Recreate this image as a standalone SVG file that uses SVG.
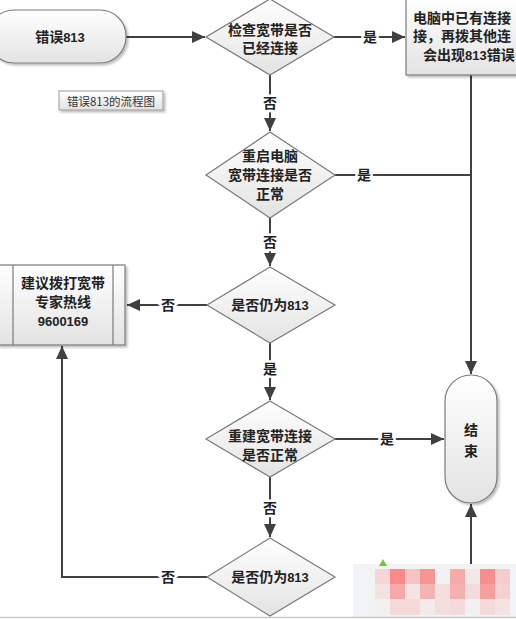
<svg xmlns="http://www.w3.org/2000/svg" width="516" height="619" viewBox="0 0 516 619">
<defs>
<linearGradient id="g" x1="0" y1="0" x2="0" y2="1">
<stop offset="0" stop-color="#ffffff"/>
<stop offset="1" stop-color="#e3e3e3"/>
</linearGradient>
<filter id="sh" x="-10%" y="-10%" width="130%" height="130%">
<feDropShadow dx="2" dy="2" stdDeviation="1.2" flood-color="#000" flood-opacity="0.25"/>
</filter>
<marker id="ar" markerUnits="userSpaceOnUse" markerWidth="13" markerHeight="12" viewBox="0 0 13 12" refX="13" refY="6" orient="auto">
<path d="M0,0 L13,6 L0,12 z" fill="#404040"/>
</marker>
<style>
.n{fill:url(#g);stroke:#7a7a7a;stroke-width:1.2}
.t{font-family:"Liberation Serif","Noto Sans CJK SC",serif;font-weight:bold;font-size:14px;fill:#222;text-anchor:middle;dominant-baseline:central}
.s{text-anchor:start}
.d{font-family:"Liberation Sans","DejaVu Sans",sans-serif;font-size:13px}
.c{fill:none;stroke:#404040;stroke-width:2}
.l{font-family:"Liberation Serif","Noto Sans CJK SC",serif;font-weight:bold;font-size:14px;fill:#222;text-anchor:middle;dominant-baseline:central;paint-order:stroke;stroke:#fff;stroke-width:5px}
</style>
</defs>
<rect width="516" height="619" fill="#fff"/>
<g id="connectors">
<path class="c" d="M126,37 H205" marker-end="url(#ar)"/>
<path class="c" d="M334,37 H405" marker-end="url(#ar)"/>
<path class="c" d="M270,75 V131" marker-end="url(#ar)"/>
<path class="c" d="M335,175 H471"/>
<path class="c" d="M471,75 V374" marker-end="url(#ar)"/>
<path class="c" d="M270,218 V266" marker-end="url(#ar)"/>
<path class="c" d="M207,305 H127" marker-end="url(#ar)"/>
<path class="c" d="M270,343 V400" marker-end="url(#ar)"/>
<path class="c" d="M335,439 H444" marker-end="url(#ar)"/>
<path class="c" d="M270,477 V537" marker-end="url(#ar)"/>
<path class="c" d="M207,577 H62 V346" marker-end="url(#ar)"/>
<path class="c" d="M471,610 V504" marker-end="url(#ar)"/>
<text class="l" x="370" y="37">是</text>
<text class="l" x="270" y="103">否</text>
<text class="l" x="364" y="175">是</text>
<text class="l" x="270" y="242">否</text>
<text class="l" x="168" y="305">否</text>
<text class="l" x="270" y="369">是</text>
<text class="l" x="387" y="439">是</text>
<text class="l" x="270" y="508">否</text>
<text class="l" x="168" y="577">否</text>
</g>
<g id="start">
<rect class="n" x="-12" y="10" width="138" height="53" rx="26" filter="url(#sh)"/>
<text class="t" x="60" y="37">错误<tspan class="d">813</tspan></text>
</g>
<g id="title">
<rect x="59" y="91" width="104" height="19" fill="url(#g)" stroke="#999" stroke-width="1" filter="url(#sh)"/>
<text x="111" y="101" font-family="'Noto Sans CJK SC',sans-serif" font-size="11.5" fill="#333" text-anchor="middle" dominant-baseline="central">错误813的流程图</text>
</g>
<g id="d1">
<polygon class="n" points="270,-1 334,37 270,75 206,37"/>
<text class="t" x="270" y="30">检查宽带是否</text>
<text class="t" x="270" y="48">已经连接</text>
</g>
<g id="note">
<rect class="n" x="406" y="-4" width="120" height="79" filter="url(#sh)"/>
<text class="t s" x="413" y="18">电脑中已有连接</text>
<text class="t s" x="413" y="36">接，再拨其他连</text>
<text class="t s" x="423" y="55">会出现<tspan class="d">813</tspan>错误</text>
</g>
<g id="d2">
<polygon class="n" points="270,132 335,175 270,218 206,175"/>
<text class="t" x="270" y="156">重启电脑</text>
<text class="t" x="270" y="175">宽带连接是否</text>
<text class="t" x="270" y="194">正常</text>
</g>
<g id="d3">
<polygon class="n" points="270,267 335,305 270,343 207,305"/>
<text class="t" x="270" y="305">是否仍为<tspan class="d">813</tspan></text>
</g>
<g id="hotline">
<rect class="n" x="-2" y="265" width="127" height="80" filter="url(#sh)"/>
<line x1="13" y1="265" x2="13" y2="345" stroke="#7a7a7a" stroke-width="1.2"/>
<line x1="113" y1="265" x2="113" y2="345" stroke="#7a7a7a" stroke-width="1.2"/>
<text class="t" x="63" y="283">建议拨打宽带</text>
<text class="t" x="63" y="302">专家热线</text>
<text class="t" x="63" y="321"><tspan class="d">9600169</tspan></text>
</g>
<g id="d4">
<polygon class="n" points="270,401 335,439 270,477 206,439"/>
<text class="t" x="270" y="436">重建宽带连接</text>
<text class="t" x="270" y="455">是否正常</text>
</g>
<g id="end">
<rect class="n" x="445" y="375" width="52" height="128" rx="26" filter="url(#sh)"/>
<text class="t" x="471" y="430">结</text>
<text class="t" x="471" y="451">束</text>
</g>
<g id="d5">
<polygon class="n" points="270,538 335,577 270,616 207,577"/>
<text class="t" x="270" y="577">是否仍为<tspan class="d">813</tspan></text>
</g>
<g id="watermark">
<rect x="353" y="564" width="163" height="53" fill="#f1f3f4"/>
<polygon points="379,566 383,559 387,566" fill="#7cc043"/>
<g>
<rect x="375" y="569" width="15" height="15" fill="#f5d5d5"/>
<rect x="390" y="569" width="15" height="15" fill="#f98a8a"/>
<rect x="405" y="569" width="15" height="15" fill="#f5c5c5"/>
<rect x="420" y="569" width="15" height="15" fill="#f79595"/>
<rect x="435" y="569" width="15" height="15" fill="#f2f2f2"/>
<rect x="450" y="569" width="15" height="15" fill="#f6aaaa"/>
<rect x="465" y="569" width="15" height="15" fill="#f3e8e8"/>
<rect x="480" y="569" width="15" height="15" fill="#f88d8d"/>
<rect x="495" y="569" width="15" height="15" fill="#f5cccc"/>
<rect x="375" y="584" width="15" height="15" fill="#f2e2e2"/>
<rect x="390" y="584" width="15" height="15" fill="#f7a8a8"/>
<rect x="405" y="584" width="15" height="15" fill="#f4e4e4"/>
<rect x="420" y="584" width="15" height="15" fill="#f5b4b4"/>
<rect x="435" y="584" width="15" height="15" fill="#f4dede"/>
<rect x="450" y="584" width="15" height="15" fill="#f5b0b0"/>
<rect x="465" y="584" width="15" height="15" fill="#f4dcdc"/>
<rect x="480" y="584" width="15" height="15" fill="#f59f9f"/>
<rect x="495" y="584" width="15" height="15" fill="#f6d0d0"/>
<rect x="375" y="599" width="15" height="16" fill="#f2f0f0"/>
<rect x="390" y="599" width="15" height="16" fill="#f5d8d8"/>
<rect x="405" y="599" width="15" height="16" fill="#f5d8d8"/>
<rect x="420" y="599" width="15" height="16" fill="#f4eaea"/>
<rect x="435" y="599" width="15" height="16" fill="#f4dddd"/>
<rect x="450" y="599" width="15" height="16" fill="#f4dada"/>
<rect x="465" y="599" width="15" height="16" fill="#f2f0f0"/>
<rect x="480" y="599" width="15" height="16" fill="#f5dada"/>
<rect x="495" y="599" width="15" height="16" fill="#f5e2e2"/>
</g>
</g>
<line x1="0" y1="617.5" x2="516" y2="617.5" stroke="#c8c8c8" stroke-width="1.5"/>
</svg>
